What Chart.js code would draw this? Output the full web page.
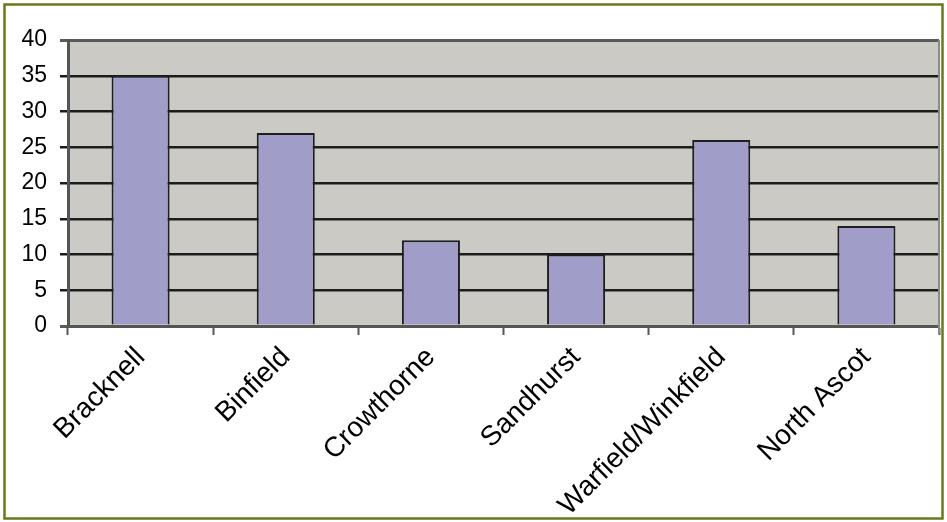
<!DOCTYPE html>
<html>
<head>
<meta charset="utf-8">
<script src="https://cdn.jsdelivr.net/npm/chart.js@4.4.1/dist/chart.umd.min.js"></script>
<style>
  html, body { margin: 0; padding: 0; background: #ffffff; }
  #wrap { position: relative; width: 947px; height: 522px; }
</style>
</head>
<body>
<div id="wrap"><canvas id="c" width="947" height="522"></canvas></div>
<script>
// Survey counts per area
const categories = ['Bracknell', 'Binfield', 'Crowthorne', 'Sandhurst', 'Warfield/Winkfield', 'North Ascot'];
const counts = [35, 27, 12, 10, 26, 14];
const yMin = 0;
const yMax = 40;
const yStep = 5;

// Grey plot background, right-hand edge and olive outer frame
const frame = {
  id: 'frame',
  beforeDraw(chart) {
    const { ctx, chartArea: a } = chart;
    ctx.save();
    ctx.fillStyle = '#cbcac5';
    ctx.fillRect(a.left, a.top, a.right - a.left, a.bottom - a.top);
    ctx.restore();
  },
  afterDraw(chart) {
    const { ctx, chartArea: a } = chart;
    ctx.save();
    ctx.strokeStyle = '#8a8a88';
    ctx.lineWidth = 2;
    ctx.beginPath();
    ctx.moveTo(a.right, a.top);
    ctx.lineTo(a.right, a.bottom + 8);
    ctx.stroke();
    ctx.strokeStyle = '#6a7a1a';
    ctx.lineWidth = 2.5;
    ctx.strokeRect(4.5, 4.5, 938, 514);
    ctx.restore();
  }
};

new Chart(document.getElementById('c'), {
  type: 'bar',
  data: {
    labels: categories,
    datasets: [{
      data: counts,
      backgroundColor: '#a09dc9',
      borderColor: '#1e1e1e',
      borderWidth: 2,
      barPercentage: 0.4,
      categoryPercentage: 1
    }]
  },
  options: {
    responsive: false,
    animation: false,
    devicePixelRatio: 1,
    layout: { padding: { left: 0, top: 40, right: 8, bottom: 0 } },
    plugins: { legend: { display: false }, tooltip: { enabled: false } },
    scales: {
      x: {
        afterFit(s) { s.height = 196; },
        grid: {
          offset: true,
          drawOnChartArea: false,
          drawTicks: true,
          tickLength: 9,
          tickWidth: 2,
          tickColor: '#555555'
        },
        border: { display: true, color: '#555555', width: 3 },
        ticks: {
          minRotation: 45,
          maxRotation: 45,
          autoSkip: false,
          padding: 6,
          color: '#000000',
          font: { family: 'Liberation Sans, Arial, sans-serif', size: 28 }
        }
      },
      y: {
        min: yMin,
        max: yMax,
        afterFit(s) { s.width = 68; },
        grid: {
          color: (c) => (c.tick && (c.tick.value === yMin || c.tick.value === yMax)) ? '#5a5a5a' : '#1c1c1c',
          lineWidth: (c) => (c.tick && (c.tick.value === yMin || c.tick.value === yMax)) ? 3 : 2.5,
          tickLength: 8
        },
        border: { display: true, color: '#555555', width: 3 },
        ticks: {
          stepSize: yStep,
          padding: 13,
          color: '#000000',
          font: { family: 'Liberation Sans, Arial, sans-serif', size: 23 }
        }
      }
    }
  },
  plugins: [frame]
});
</script>
</body>
</html>
